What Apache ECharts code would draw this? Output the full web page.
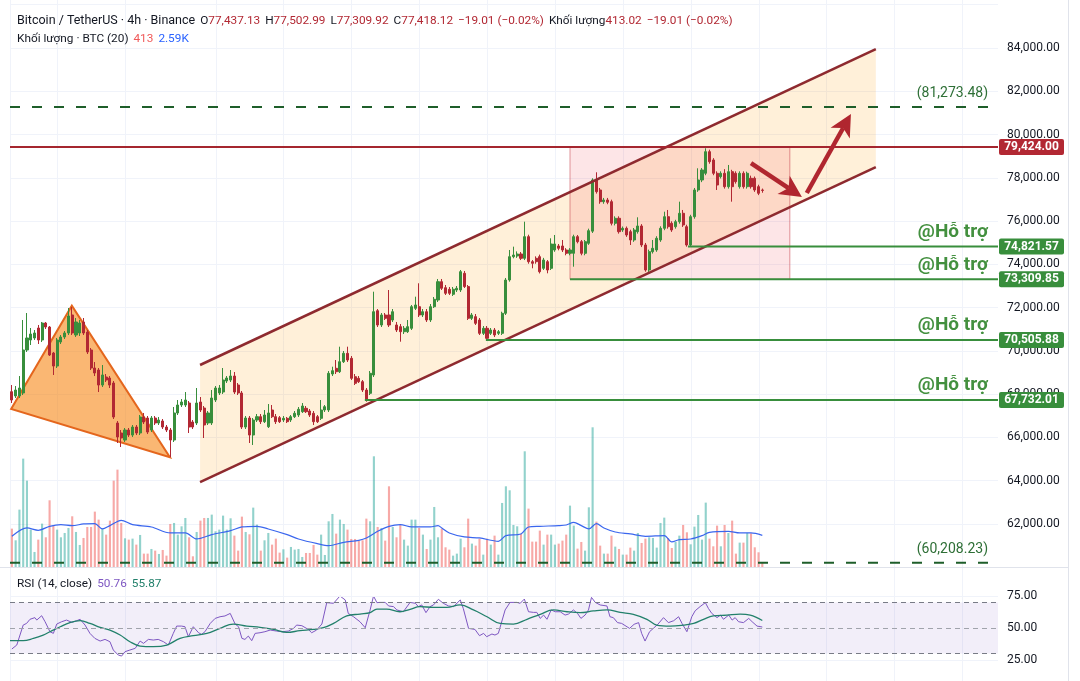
<!DOCTYPE html>
<html><head><meta charset="utf-8">
<script src="https://cdn.jsdelivr.net/npm/echarts@6/dist/echarts.min.js"></script>
<style>html,body{margin:0;padding:0;background:#fff}#c{width:1080px;height:681px}</style>
</head><body><div id="c"></div>
<script>
// ---------- data ----------
const opens=[68115,67916,67916,68055,70042,70504,70597,71059,70504,71290,
71105,69903,69302,70412,70643,70828,71660,70735,70828,71337,
70874,70042,69210,69118,68424,68794,68748,68517,66668,66206,
65882,66344,66113,66483,66206,66946,66899,66344,66899,66668,
66761,66483,66344,65882,67131,67500,67500,67592,66715,66668,
67639,67361,66668,66668,67731,68055,68100,68609,68655,68840,
68424,68055,66483,66899,66113,66807,66960,66730,66497,67269,
66960,66914,66807,66885,66807,66960,67038,67191,67348,67223,
67117,66960,66885,67269,67269,68933,69196,69040,69501,69889,
69658,68808,68734,68578,68193,68041,68887,71858,71198,71660,
71660,71429,71198,71120,70888,70888,71045,71969,72043,71660,
71812,71429,72043,72353,73199,72922,72848,72616,72815,72815,
73587,72972,71507,71583,71429,70813,71045,70813,70966,70813,
70813,71738,73277,74354,74386,74479,74280,75279,74123,74280,
74354,73818,74123,73818,74664,74849,74849,74664,74511,74511,
75279,75048,74511,74974,75534,77899,77437,76897,76975,76897,
75898,76129,75588,75667,75510,75126,75510,75773,74895,73740,
74585,74664,75126,75667,76203,75898,75741,75972,76360,75741,
74895,76203,77437,77899,78209,79207,78824,78209,78052,78209,
77590,78283,78209,77590,78209,77590,77978,77978,77590,77437];
const highs=[68424,68378,68840,71429,71752,71059,70966,71198,71337,71337,
71151,69950,70597,70735,70920,71983,72029,71521,71429,71521,
70966,70134,69487,69210,69349,68933,68840,68609,66761,66344,
66437,66437,66576,66576,67038,67131,66992,66992,66992,66946,
66853,66576,66437,67408,67731,67777,68100,67685,66807,68286,
67870,67454,67223,68193,68378,68424,69210,68840,69118,69025,
68517,68147,66992,66992,66899,67084,67084,67269,67546,67500,
67084,66992,66992,66946,67038,67223,67408,67592,67454,67315,
67223,67038,67731,67500,69071,69270,69580,70195,69996,70195,
69765,68933,68840,68655,68286,69071,72737,71937,71752,71752,
72815,71937,71337,71244,71151,71429,72122,72506,73125,71937,
71937,72168,72492,73324,73324,73046,72954,72954,73000,73740,
73694,73046,71752,71706,71521,71151,71151,71059,71059,70966,
71812,73370,74664,74818,74600,74570,75972,75370,74200,74370,
74450,74300,74200,75205,75357,74941,75126,74750,74750,75370,
75357,75126,75126,75650,77978,78255,77530,77070,77070,76990,
76220,76220,75750,75750,75600,75680,76175,75860,74990,74680,
75126,75300,75760,76434,76513,75990,76060,76897,76513,75830,
76290,77530,78440,78450,79364,79300,78910,78300,78300,78400,
78593,78370,78300,78300,78300,78283,78100,78060,77680,77503];
const lows=[67592,67824,67824,67962,69950,70273,70504,70319,70412,71013,
69765,68887,69210,70319,70551,70735,70735,70643,70689,70735,
69857,69118,68840,68100,68332,68563,68286,66853,65744,65559,
65790,66021,66021,66113,66113,66622,66159,66252,66576,66576,
66391,66252,65096,65790,67038,67408,67408,66206,66391,66576,
67177,65975,66576,66576,67639,67962,68008,68517,68563,68008,
67962,66391,66391,65744,65652,66715,66622,66668,66437,66899,
66622,66668,66715,66668,66715,66899,66946,67131,67131,66946,
66576,66668,66807,67177,67177,68840,68933,68979,69441,69487,
68655,68424,68517,68100,67654,67962,68794,71105,71105,71429,
71105,71337,70874,70426,70781,70828,70966,71891,71568,71568,
71337,71337,71983,72261,72815,72584,72584,72538,72723,72723,
72908,71429,71429,71198,70735,70735,70504,70735,70643,70735,
70735,71660,73200,74280,74300,74200,74200,74030,73818,74030,
73580,73740,73587,73740,74580,74650,74570,74420,74420,73892,
74970,74420,74420,74900,75450,77270,76800,76800,76780,75800,
75800,75420,75500,75270,74895,75040,75420,74800,73661,73650,
74500,74580,75040,75580,75650,75500,75650,75880,75730,74817,
74817,76110,77350,77800,78120,78650,78120,77437,77970,77500,
77500,76897,77730,77500,77500,77500,77500,77350,77200,77310];
const closes=[67731,68193,68286,70042,70597,70781,70828,70504,71290,71105,
69811,69302,70504,70643,70828,71614,70828,71337,71290,70828,
69950,69210,68979,68424,68887,68655,68424,66946,66021,65975,
66344,66113,66483,66206,66946,66715,66252,66899,66668,66807,
66483,66344,65882,67131,67500,67639,67731,66483,66483,67592,
67269,66576,67131,67824,68286,68286,68655,68748,68840,68100,
68055,66483,66899,66113,66807,66960,66730,67038,67131,66960,
66730,66730,66885,66730,66960,67117,67302,67454,67191,67038,
66730,66730,67269,67422,68965,69085,69040,69501,69889,69580,
68734,68503,68578,68193,67731,68965,71812,71198,71660,71507,
71198,71812,70966,70888,71045,71120,72043,72122,71660,71812,
71429,72043,72385,73199,72894,72663,72663,72848,72894,73661,
72972,71507,71660,71276,70813,71045,70583,70966,70735,70888,
71738,73277,74354,74432,74479,74280,75279,74123,74049,74123,
73661,74202,73740,74941,74941,74743,74664,74511,74664,75279,
75048,74511,75048,75556,77899,77359,76897,76975,76869,75898,
76129,75510,75667,75357,75126,75588,75773,74895,73740,74585,
74742,75205,75667,76203,75741,75588,75972,76360,75820,74895,
76203,77437,77899,78362,79207,78745,78209,77668,78209,77590,
78283,77590,77821,78209,77590,78209,77590,77437,77285,77418];
const volumes=[3132,2187,4671,8802,7020,3051,1242,2241,3537,2430,
5427,3375,3051,2430,2781,3186,4131,2862,1809,2376,
3267,3267,4509,3861,3132,2646,3780,7020,7911,3591,
2349,2241,2322,1836,2619,1107,1107,1485,1350,1080,
1404,945,3510,3591,2646,3321,3996,2430,891,2862,
3780,3996,3996,4266,2916,3051,4185,3051,3969,2565,
1350,4104,2862,2673,4833,3456,1350,2187,2781,1836,
2322,1188,1458,783,1647,1431,1485,837,1161,1161,
1809,1026,2646,999,3726,4320,2727,3861,3510,3051,
2295,2295,2160,2187,3942,3726,8991,3267,3186,2160,
6561,3267,2430,3429,2241,1755,3861,3861,3186,2646,
1485,2241,4887,2430,3132,1620,1431,945,1107,2322,
1620,3942,1917,1755,2322,1026,2322,1836,2565,1026,
5211,6561,6237,3429,3321,2727,9396,4752,2079,2079,
2970,1836,2646,2646,1836,1917,2160,2646,4995,3375,
1512,2052,1350,4860,11340,3699,1755,1107,1107,2565,
1674,1485,1026,1026,1593,1350,2781,1971,2322,2430,
2376,1593,3591,4023,2376,1566,2052,2565,3429,2835,
1863,3294,4239,2241,5238,2322,1701,3375,1701,3429,
2781,3780,1107,1998,1998,2781,2754,1620,1215,413];
// Volume MA(20) read at points along the line: [candle index, value]
const volMA=[[0,2511],[4,3186],[7,2997],[10,3321],[13,3456],[16,3375],[19,3510],[22,3537],[24,3105],[26,3375],[29,3807],[32,3456],[37,3267],[42,2781],[46,2781],[49,2295],[53,2646],[58,2970],[61,3267],[65,3321],[68,3105],[73,2646],[76,2295],[81,1917],[84,1755],[88,2025],[92,2187],[94,2376],[97,2916],[100,3321],[103,3456],[106,3267],[111,3267],[113,3375],[114,3186],[116,2781],[120,2457],[124,2376],[129,2106],[131,2565],[135,2700],[137,3267],[140,3321],[145,3375],[147,3429],[149,3645],[151,3375],[153,3105],[155,3537],[157,3186],[160,2862],[164,2700],[168,2511],[173,2565],[175,2052],[177,2241],[180,2295],[183,2565],[185,2835],[190,2916],[193,2781],[196,2781],[199,2590]];
// RSI(14) read at points: [candle index, value]
const rsiLine=[[0,33.6],[1.3,36.7],[3.0,52.3],[3.9,53.6],[4.8,56.8],[6.1,58.1],[6.6,56.2],[7.9,59.6],[8.8,54.9],[10.1,47.1],
[11.0,45.8],[11.9,53.1],[13.2,54.9],[14.5,56.2],[15.9,54.4],[17.2,55.7],[18.1,56.8],[19.4,52.3],[20.7,45.8],[22.0,41.9],
[23.4,39.8],[24.7,41.1],[26.0,39.3],[26.9,32.8],[28.2,28.9],[29.1,28.1],[30.0,31.5],[31.3,32.8],[32.7,34.1],[34.0,39.8],
[34.9,38.0],[36.2,41.1],[37.5,40.6],[38.8,41.1],[40.2,39.3],[41.5,36.7],[42.8,45.8],[43.7,51.5],[45.0,51.5],[45.9,51.0],
[46.8,43.2],[48.1,51.0],[49.5,46.3],[50.3,45.0],[51.2,47.1],[52.6,53.6],[53.9,57.5],[55.2,58.8],[56.5,59.4],[57.9,61.4],
[59.2,53.1],[60.1,51.0],[61.0,41.9],[61.8,41.1],[62.7,43.7],[63.6,40.1],[64.5,45.8],[65.8,46.3],[67.1,47.1],[68.5,48.4],
[70.2,47.6],[71.6,47.1],[73.3,47.6],[74.7,49.7],[75.5,52.3],[76.9,51.8],[78.6,48.9],[79.5,46.3],[80.8,48.4],[82.2,53.1],
[83.5,69.8],[85.3,69.3],[87.0,75.0],[88.4,71.9],[89.2,61.4],[90.6,58.8],[92.3,54.9],[93.7,50.2],[95.0,64.1],[95.9,75.0],
[96.8,69.8],[97.6,70.0],[99.0,70.0],[99.9,67.2],[101.2,66.7],[102.1,64.1],[103.8,62.7],[105.6,70.0],[107.0,69.3],[107.8,66.7],
[108.7,68.0],[109.8,62.0],[110.9,66.7],[111.8,68.0],[113.1,72.4],[114.4,69.3],[115.8,67.2],[117.1,66.7],[118.9,71.9],[119.7,65.3],
[121.1,49.7],[122.8,48.9],[124.0,44.0],[125.1,45.8],[125.9,43.2],[127.3,45.3],[128.1,44.5],[129.0,45.8],[130.8,64.1],[132.1,70.0],
[133.9,70.0],[134.8,69.3],[135.9,72.6],[137.0,62.7],[138.3,62.2],[139.2,62.2],[140.1,57.5],[141.0,60.1],[141.9,56.8],[143.0,64.1],
[144.1,62.7],[145.4,62.7],[146.7,60.1],[147.6,60.9],[148.9,64.1],[150.0,61.4],[150.9,57.5],[152.0,60.1],[152.9,64.1],[153.7,73.9],
[154.7,70.0],[156.0,68.0],[157.8,67.2],[158.6,58.8],[159.5,58.1],[160.6,54.2],[161.7,53.6],[163.8,49.7],[165.0,52.9],[166.2,54.2],
[167.0,45.8],[167.9,39.8],[169.1,47.1],[170.1,49.7],[171.3,52.9],[172.8,58.1],[174.1,54.2],[175.5,55.7],[176.8,58.8],[177.7,53.6],
[179.0,47.1],[180.3,58.8],[181.2,63.5],[182.5,66.7],[183.9,69.8],[184.7,65.3],[185.6,61.4],[187.0,58.1],[187.9,60.1],[188.7,56.8],
[190.1,60.1],[191.0,56.2],[191.8,58.1],[192.7,54.9],[194.0,54.2],[195.4,57.5],[196.3,54.9],[197.6,51.5],[199,50.76]];
const rsiMA=[[-0.5,40.1],[3.0,40.1],[5.7,41.9],[8.3,44.5],[10.1,47.1],[12.8,51.0],[15.4,54.2],[18.1,55.7],[20.7,53.6],[23.4,50.5],[26.0,48.4],[28.7,44.5],[31.3,39.3],[34.0,35.9],[37.5,35.4],[41.1,36.7],[44.6,41.9],[48.1,44.0],[51.7,45.8],[55.2,49.7],[58.7,53.1],[62.3,51.5],[65.8,50.5],[69.4,48.9],[72.9,46.6],[76.4,47.9],[80.0,48.9],[82.6,50.2],[85.3,53.6],[88.8,59.4],[92.3,60.9],[95.0,62.0],[96.8,64.8],[99.4,64.8],[102.9,62.7],[105.6,64.6],[108.2,66.7],[111.8,66.1],[115.3,66.1],[118.9,68.0],[122.4,64.1],[126.0,58.8],[129.5,53.6],[133.0,53.1],[136.6,56.8],[140.1,60.7],[143.6,64.1],[147.2,62.7],[150.7,62.0],[154.2,63.3],[157.8,64.1],[161.3,62.2],[164.8,60.7],[168.4,56.8],[171.0,52.3],[174.6,51.5],[178.1,52.3],[180.8,53.6],[183.4,56.8],[186.0,59.4],[189.6,60.1],[193.1,60.9],[195.8,60.1],[199,55.87]];
// levels and drawings (candle index, price)
const resistance=79424.00;
const targetHigh=81273.48, targetLow=60208.23;
const supportLevels=[74821.57,73309.85,70505.88,67732.01];
const supportStart=[179.3,148.0,125.7,93.6];
const channelUpper=[[49.9,69349],[229.1,83952]];
const channelLower=[[49.9,63941],[229.1,78499]];
const triangle=[[-0.2,67315],[15.9,72089],[41.9,65083]];
const boxIdx=[148.0,206.3];
const arrows=[[[196.0,78684],[209.5,77113]],[[210.8,77297],[222.5,80948]]];
const timeGridIdx=[12,30,54,72,90,108,126,144,162,180,198,216,234,252];
const priceTicks=[60000,86000,2000];
const rsiTicks=[0,100,25];

// ---------- chart ----------
const N=262;
const slots=Array.from({length:N},(_,i)=>String(i));
const UP='#388e3c', DOWN='#b22833';
const FONT='Roboto';
const candleData=opens.map((o,i)=>[o,closes[i],lows[i],highs[i]]);
const volData=volumes.map((v,i)=>({value:v,itemStyle:{color:closes[i]>=opens[i]?'rgba(38,166,154,0.5)':'rgba(239,83,80,0.5)'}}));
const fmt=v=>v.toLocaleString('en-US',{minimumFractionDigits:2,maximumFractionDigits:2});

const fills=[
  {pts:[channelUpper[0],channelUpper[1],channelLower[1],channelLower[0]],style:{fill:'rgba(255,152,0,0.15)'}},
  {pts:[[boxIdx[0],resistance],[boxIdx[1],resistance],[boxIdx[1],supportLevels[1]],[boxIdx[0],supportLevels[1]]],style:{fill:'rgba(242,54,69,0.13)',stroke:'rgba(200,70,80,0.55)',lineWidth:1}},
  {pts:triangle,style:{fill:'rgba(245,124,0,0.55)',stroke:'#e4661d',lineWidth:2}}
];
const strokes=[
  {pts:channelUpper,style:{stroke:'#8e2a2f',lineWidth:2.5}},
  {pts:channelLower,style:{stroke:'#8e2a2f',lineWidth:2.5}},
  {pts:[[-0.5,resistance],[N-0.5,resistance]],style:{stroke:'#a5262f',lineWidth:2}},
  {pts:[[-0.5,targetHigh],[259.4,targetHigh]],style:{stroke:'#1e5e2a',lineWidth:2,lineDash:[10,12]}},
  {pts:[[-0.5,targetLow],[259.4,targetLow]],style:{stroke:'#1e5e2a',lineWidth:2,lineDash:[10,12]}}
].concat(supportLevels.map((p,k)=>({pts:[[supportStart[k],p],[N-0.5,p]],style:{stroke:'#388e3c',lineWidth:2}})));

function shapeSeries(list,z,closed){
  return {type:'custom',xAxisIndex:1,yAxisIndex:2,z:z,silent:true,animation:false,
    data:list.map(s=>s.pts[0]),
    renderItem:(params,api)=>{
      const s=list[params.dataIndex];
      const points=s.pts.map(p=>api.coord(p));
      const style=Object.assign({fill:closed?undefined:null},s.style);
      return {type:closed?'polygon':'polyline',shape:{points},style};
    }};
}

const chart=echarts.init(document.getElementById('c'),null,{renderer:'canvas'});
const gridRect={left:10,right:82,top:4.7,height:562.6,containLabel:false,outerBoundsMode:'none'};
chart.setOption({
  animation:false,
  backgroundColor:'#ffffff',
  grid:[Object.assign({},gridRect),Object.assign({},gridRect),
        {left:10,right:82,top:564,height:128,containLabel:false,outerBoundsMode:'none'}],
  xAxis:[
    {type:'category',gridIndex:0,data:slots,show:false,boundaryGap:true},
    {type:'value',gridIndex:1,min:-0.5,max:N-0.5,show:false},
    {type:'value',gridIndex:2,min:-0.5,max:N-0.5,show:false}
  ],
  yAxis:[
    {type:'value',gridIndex:0,position:'right',min:priceTicks[0],max:priceTicks[1],interval:priceTicks[2],
     axisLine:{show:false},axisTick:{show:false},
     splitLine:{show:true,lineStyle:{color:'#f0f3fa',width:1}},
     axisLabel:{margin:9,fontSize:12,fontFamily:FONT,color:'#131722',hideOverlap:false,
       formatter:v=>(v>priceTicks[0]&&v<priceTicks[1])?fmt(v):''}},
    {type:'value',gridIndex:0,position:'left',min:0,max:45570,show:false},
    {type:'value',gridIndex:1,position:'right',min:priceTicks[0],max:priceTicks[1],show:false},
    {type:'value',gridIndex:1,position:'left',min:0,max:45570,show:false},
    {type:'value',gridIndex:2,position:'right',min:rsiTicks[0],max:rsiTicks[1],interval:rsiTicks[2],
     axisLine:{show:false},axisTick:{show:false},splitLine:{show:false},
     axisLabel:{margin:9,fontSize:12,fontFamily:FONT,color:'#131722',
       formatter:v=>(v>rsiTicks[0]&&v<rsiTicks[1])?v.toFixed(2):''}}
  ],
  series:[
    {type:'custom',name:'timegrid',xAxisIndex:1,yAxisIndex:2,z:0,silent:true,
     data:timeGridIdx.map(i=>[i,70000]),
     renderItem:(params,api)=>{const x=Math.round(api.coord([api.value(0),70000])[0])+0.5;
       return {type:'line',shape:{x1:x,y1:0,x2:x,y2:681},style:{stroke:'#f0f3fa',lineWidth:1}};}},
    {type:'bar',name:'Volume',xAxisIndex:0,yAxisIndex:1,data:volData,barWidth:'56%',z:1,silent:true},
    shapeSeries(fills,2,true),
    {type:'candlestick',name:'BTCUSDT',xAxisIndex:0,yAxisIndex:0,data:candleData,barWidth:'68%',z:3,
     itemStyle:{color:UP,color0:DOWN,borderColor:UP,borderColor0:DOWN,borderColorDoji:DOWN,borderWidth:1}},
    {type:'line',name:'Vol MA',xAxisIndex:1,yAxisIndex:3,data:volMA,symbol:'none',smooth:0.3,z:3,
     lineStyle:{color:'#3a66ee',width:1.2},silent:true},
    shapeSeries(strokes,4,false),
    {type:'custom',name:'arrows',xAxisIndex:1,yAxisIndex:2,z:5,silent:true,
     data:arrows.map(a=>a[0]),
     renderItem:(params,api)=>{
       const s=arrows[params.dataIndex];
       const a=api.coord(s[0]), b=api.coord(s[1]);
       const dx=b[0]-a[0], dy=b[1]-a[1], len=Math.hypot(dx,dy), ux=dx/len, uy=dy/len;
       const L=22, W=11, notch=16, nx=-uy, ny=ux;
       const base=[b[0]-ux*L,b[1]-uy*L];
       const left=[base[0]+nx*W,base[1]+ny*W], right=[base[0]-nx*W,base[1]-ny*W];
       const n=[b[0]-ux*notch,b[1]-uy*notch];
       return {type:'group',children:[
         {type:'line',shape:{x1:a[0],y1:a[1],x2:n[0],y2:n[1]},style:{stroke:'#b0262f',lineWidth:4.5}},
         {type:'polygon',shape:{points:[b,left,n,right]},style:{fill:'#b0262f'}}
       ]};
     }},
    {type:'line',name:'RSI',xAxisIndex:2,yAxisIndex:4,data:rsiLine,symbol:'none',z:4,
     lineStyle:{color:'#7e57c2',width:1},silent:true,
     markArea:{silent:true,itemStyle:{color:'rgba(126,87,194,0.1)'},data:[[{yAxis:30},{yAxis:70}]]},
     markLine:{silent:true,symbol:'none',label:{show:false},animation:false,
       data:[
         {yAxis:75,lineStyle:{color:'#f0f3fa',type:'solid',width:1}},
         {yAxis:25,lineStyle:{color:'#f0f3fa',type:'solid',width:1}},
         {yAxis:70,lineStyle:{color:'#787b86',type:[5,4],width:1}},
         {yAxis:50,lineStyle:{color:'#a0a3ab',type:[5,4],width:1}},
         {yAxis:30,lineStyle:{color:'#787b86',type:[5,4],width:1}}
       ]}},
    {type:'line',name:'RSI MA',xAxisIndex:2,yAxisIndex:4,data:rsiMA,symbol:'none',smooth:0.4,z:4,
     lineStyle:{color:'#22806b',width:1.3},silent:true}
  ]
});

// ---------- overlays positioned through the axes ----------
const py=p=>chart.convertToPixel({yAxisIndex:0},p);
const g=[];
g.push({type:'line',shape:{x1:0,y1:567.5,x2:1069,y2:567.5},style:{stroke:'#e0e3eb',lineWidth:1},z:50});
g.push({type:'line',shape:{x1:1068.5,y1:0,x2:1068.5,y2:681},style:{stroke:'#e0e3eb',lineWidth:1},z:50});
g.push({type:'line',shape:{x1:10.5,y1:0,x2:10.5,y2:681},style:{stroke:'#f0f3fa',lineWidth:1},z:0});
function tag(price,color){
  const y=py(price);
  g.push({type:'rect',shape:{x:999,y:y-8,width:65,height:16,r:2},style:{fill:color},z:100});
  g.push({type:'text',x:1031.5,y:y,style:{text:fmt(price),fill:'#ffffff',font:'bold 12px '+FONT,
    align:'center',verticalAlign:'middle',textAlign:'center',textVerticalAlign:'middle'},z:101});
}
tag(resistance,'#b22833');
supportLevels.forEach(p=>tag(p,'#388e3c'));
supportLevels.forEach(p=>{
  g.push({type:'text',x:988,y:py(p)-14.5,style:{text:'@Hỗ trợ',fill:'#43903f',font:'bold 19px '+FONT,
    align:'right',verticalAlign:'middle',textAlign:'right',textVerticalAlign:'middle'},z:90});
});
[targetHigh,targetLow].forEach(p=>{
  g.push({type:'text',x:988,y:py(p)-13,style:{text:'('+fmt(p)+')',fill:'#2e6f36',font:'14px '+FONT,
    align:'right',verticalAlign:'middle',textAlign:'right',textVerticalAlign:'middle'},z:90});
});
const NS=11.8;
const richBase={
  t:{fill:'#131722',fontSize:12.5,fontFamily:FONT},
  k:{fill:'#131722',fontSize:NS,fontFamily:FONT},
  r:{fill:'#b22833',fontSize:NS,fontFamily:FONT},
  s:{width:5,fontSize:NS},
  l:{fill:'#f05a5a',fontSize:NS,fontFamily:FONT},
  b:{fill:'#2962ff',fontSize:NS,fontFamily:FONT},
  p:{fill:'#7e57c2',fontSize:NS,fontFamily:FONT},
  gg:{fill:'#22806b',fontSize:NS,fontFamily:FONT}
};
g.push({type:'text',x:17,y:21,z:120,style:{verticalAlign:'middle',textVerticalAlign:'middle',rich:richBase,
  text:'{t|Bitcoin / TetherUS · 4h · Binance}{s| }{k|O}{r|77,437.13}{s| }{k|H}{r|77,502.99}{s| }{k|L}{r|77,309.92}{s| }{k|C}{r|77,418.12}{s| }{r|−19.01 (−0.02%)}{s| }{k|Khối lượng}{r|413.02}{s| }{r|−19.01 (−0.02%)}'}});
g.push({type:'text',x:17,y:39,z:120,style:{verticalAlign:'middle',textVerticalAlign:'middle',rich:richBase,
  text:'{k|Khối lượng · BTC (20)}{s| }{l|413}{s| }{b|2.59K}'}});
g.push({type:'text',x:17,y:584,z:120,style:{verticalAlign:'middle',textVerticalAlign:'middle',rich:richBase,
  text:'{k|RSI (14, close)}{s| }{p|50.76}{s| }{gg|55.87}'}});
chart.setOption({graphic:{elements:g}});
</script>
</body></html>
